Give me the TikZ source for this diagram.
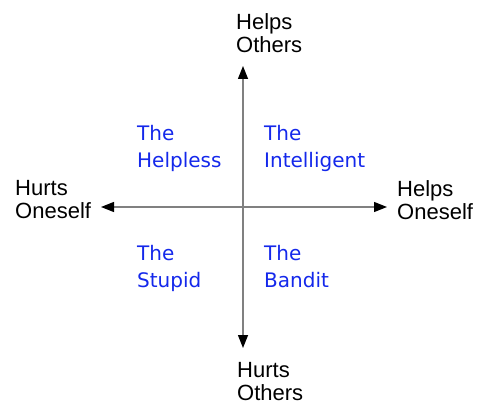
\documentclass[tikz,border=0pt]{standalone}
\usepackage{fontspec}
\setmainfont{Liberation Sans}
\newfontfamily\quadfont{DejaVu Sans}
\usetikzlibrary{arrows.meta}
\definecolor{quadblue}{RGB}{20,40,235}
\definecolor{axisgray}{RGB}{128,128,128}
\tikzset{
  axislabel/.style={anchor=north west,inner sep=0pt,align=left,font=\fontsize{22}{23}\selectfont},
  quadlabel/.style={anchor=north west,inner sep=0pt,align=left,text=quadblue,font=\quadfont\fontsize{20}{27}\selectfont},
  axisline/.style={draw=axisgray,line width=1.4pt,{Triangle[length=13pt,width=10pt,color=black]}-{Triangle[length=13pt,width=10pt,color=black]}}
}
\begin{document}
\begin{tikzpicture}[x=1pt,y=-1pt]
\useasboundingbox (0,0) rectangle (478,403);
\coordinate (top) at (243,66);
\coordinate (bottom) at (243,348);
\coordinate (left) at (101,207);
\coordinate (right) at (387,207);
\draw[axisline] (bottom) -- (top);
\draw[axisline] (left) -- (right);
\node[axislabel] (ho) at (236,13) {Helps\\Others};
\node[axislabel] (uo) at (237,362) {Hurts\\Others};
\node[axislabel] (us) at (15,180) {Hurts\\Oneself};
\node[axislabel] (hs) at (397,180) {Helps\\Oneself};
\node[quadlabel] (helpless) at (137,125) {The\\Helpless};
\node[quadlabel] (intelligent) at (264,125) {The\\Intelligent};
\node[quadlabel] (stupid) at (137,245) {The\\Stupid};
\node[quadlabel] (bandit) at (264,245) {The\\Bandit};
\end{tikzpicture}
\end{document}
